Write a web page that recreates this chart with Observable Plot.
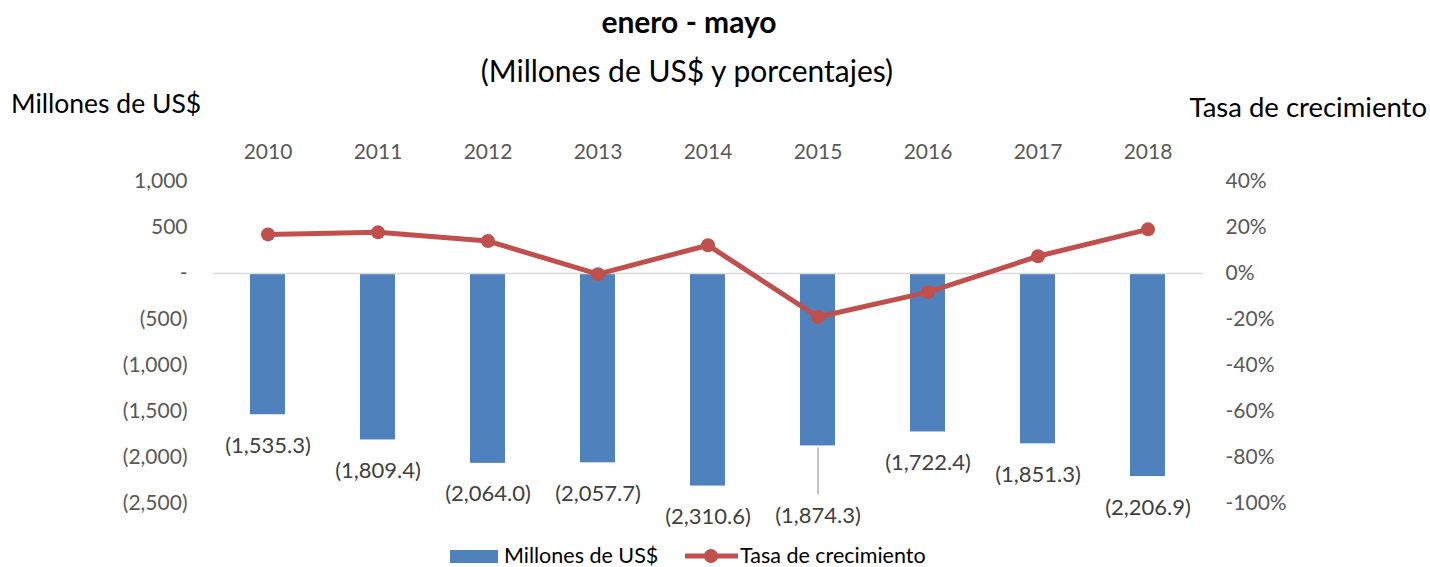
<!DOCTYPE html>
<html>
<head>
<meta charset="utf-8">
<script src="https://cdn.jsdelivr.net/npm/d3@7"></script>
<script src="https://cdn.jsdelivr.net/npm/@observablehq/plot@0.6"></script>
<style>
  html, body { margin: 0; padding: 0; background: #fff; }
  #wrap { position: relative; width: 1430px; height: 567px; font-family: Lato, "Open Sans", sans-serif; color: #000; overflow: hidden; }
  .abs { position: absolute; white-space: nowrap; }
  #chart { position: absolute; left: 0; top: 120px; }
</style>
</head>
<body>
<div id="wrap">
  <div class="abs" id="title" style="left:0;width:1378px;text-align:center;top:3px;font-size:30px;font-weight:bold;">enero - mayo</div>
  <div class="abs" id="subtitle" style="left:0;width:1374px;text-align:center;top:52px;font-size:30px;">(Millones de US$ y porcentajes)</div>
  <div class="abs" id="ylabL" style="left:11px;top:87px;font-size:26.5px;">Millones de US$</div>
  <div class="abs" id="ylabR" style="right:3px;top:90px;font-size:27.5px;">Tasa de crecimiento</div>
  <div id="chart"></div>
  <div class="abs" id="legend" style="left:0;top:542px;width:1430px;height:26px;font-size:21.5px;">
    <div class="abs" style="left:450px;top:8px;width:48px;height:13px;background:#4f81bd;"></div>
    <div class="abs" style="left:504px;top:0px;">Millones de US$</div>
    <svg class="abs" style="left:684px;top:1px;" width="56" height="24"><line x1="1" y1="13" x2="54" y2="13" stroke="#c0504d" stroke-width="5"/><circle cx="27" cy="13" r="7" fill="#c0504d"/></svg>
    <div class="abs" style="left:740px;top:0px;">Tasa de crecimiento</div>
  </div>
</div>
<script>
const years = [2010, 2011, 2012, 2013, 2014, 2015, 2016, 2017, 2018];
const values = [-1535.3, -1809.4, -2064.0, -2057.7, -2310.6, -1874.3, -1722.4, -1851.3, -2206.9];
const growth = [17.0, 17.9, 14.1, -0.3, 12.3, -18.9, -8.1, 7.5, 19.2];
const leftTicks = [1000, 500, 0, -500, -1000, -1500, -2000, -2500];
const rightTicks = [40, 20, 0, -20, -40, -60, -80, -100];

const data = years.map((y, i) => ({year: y, value: values[i], growth: growth[i]}));
const ratio = 25; // 1% on right axis = 25 on left axis

const fmtVal = v => v === 0 ? "-" : (v < 0 ? "(" + d3.format(",")(-v) + ")" : d3.format(",")(v));
const fmtLab = v => "(" + d3.format(",.1f")(Math.abs(v)) + ")";

const special = 2015; // label moved down with a leader line
const normal = data.filter(d => d.year !== special);
const moved = data.filter(d => d.year === special);

const chart = Plot.plot({
  width: 1430,
  height: 420,
  marginTop: 61,
  marginBottom: 37,
  marginLeft: 213,
  marginRight: 227,
  style: {fontFamily: "Lato, 'Open Sans', sans-serif", fontSize: "21px", color: "#595959", background: "transparent"},
  x: {type: "band", domain: years, paddingInner: 0.68, paddingOuter: 0.34, axis: null},
  y: {domain: [-2500, 1000], axis: null},
  marks: [
    Plot.axisY(leftTicks, {anchor: "left", label: null, tickSize: 0, tickPadding: 26, tickFormat: fmtVal, fill: "#595959"}),
    Plot.axisY(rightTicks.map(p => p * ratio), {anchor: "right", label: null, tickSize: 0, tickPadding: 22, tickFormat: d => Math.round(d / ratio) + "%", fill: "#595959"}),
    Plot.text(years, {x: d => d, frameAnchor: "top", dy: -37, text: d => String(d), fill: "#595959"}),
    Plot.barY(data, {x: "year", y: "value", fill: "#4f81bd"}),
    Plot.ruleY([0], {stroke: "#d9d9d9", strokeWidth: 1.5}),
    Plot.ruleX(moved, {x: "year", y1: "value", y2: "value", insetTop: 2, insetBottom: -49, stroke: "#a6a6a6", strokeWidth: 1.3}),
    Plot.text(normal, {x: "year", y: "value", text: d => fmtLab(d.value), dy: 31, fill: "#404040", fontSize: 22}),
    Plot.text(moved, {x: "year", y: "value", text: d => fmtLab(d.value), dy: 70, fill: "#404040", fontSize: 22}),
    Plot.line(data, {x: "year", y: d => d.growth * ratio, stroke: "#c0504d", strokeWidth: 5}),
    Plot.dot(data, {x: "year", y: d => d.growth * ratio, r: 7, fill: "#c0504d"})
  ]
});
document.getElementById("chart").appendChild(chart);
</script>
</body>
</html>
